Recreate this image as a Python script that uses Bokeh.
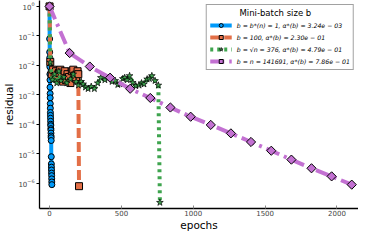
import math
from bokeh.plotting import figure
from bokeh.models import FixedTicker, Legend
from bokeh.embed import file_html
from bokeh.resources import INLINE

# ---- data ----
blue_epochs = [i * 0.5 for i in range(33)]
blue_res = [1.0, 7.9e-2, 2.8e-2, 1.8e-2, 8.9e-3, 5.0e-3, 3.2e-3, 1.8e-3, 1.1e-3, 7.9e-4,
            5.0e-4, 3.5e-4, 2.5e-4, 2.0e-4, 1.6e-4, 1.26e-4, 1.0e-4, 8.9e-5, 7.1e-5, 6.3e-5,
            5.0e-5, 4.0e-5, 3.5e-5, 2.8e-5, 7.9e-6, 4.5e-6, 3.5e-6, 2.8e-6, 2.2e-6, 1.8e-6,
            1.4e-6, 1.1e-6, 8.9e-7]

orange_epochs = [0, 5, 15, 25, 35, 45, 55, 65, 75, 85, 95, 105, 115, 125, 135, 145, 155,
                 165, 175, 185, 195, 200, 205]
orange_res = [1.0, 1.3e-2, 5.0e-3, 7.1e-3, 4.0e-3, 6.3e-3, 3.5e-3, 5.6e-3, 7.1e-3, 4.5e-3,
              2.8e-3, 6.3e-3, 3.2e-3, 5.0e-3, 4.0e-3, 2.5e-3, 6.3e-3, 7.1e-3, 4.5e-3, 3.5e-3,
              6.3e-3, 5.0e-3, 7.9e-7]

green_epochs = [0, 5, 20, 35, 50, 65, 80, 100, 120, 145, 165, 185, 201, 220, 234, 250, 268,
                290, 312, 335, 357, 385, 412, 435, 457, 475, 490, 510, 523, 540, 557, 579,
                600, 623, 640, 657, 679, 695, 712, 734, 757, 768]
green_res = [1.0, 1.26e-2, 3.2e-3, 5.0e-3, 2.5e-3, 6.3e-3, 3.0e-3, 4.0e-3, 2.5e-3, 3.4e-3,
             5.0e-3, 2.8e-3, 2.1e-3, 2.8e-3, 2.3e-3, 1.8e-3, 1.6e-3, 1.9e-3, 1.6e-3, 2.5e-3,
             3.8e-3, 3.2e-3, 3.8e-3, 2.8e-3, 3.0e-3, 2.2e-3, 2.3e-3, 3.5e-3, 3.8e-3, 3.2e-3,
             4.4e-3, 2.6e-3, 2.0e-3, 2.1e-3, 2.5e-3, 2.3e-3, 3.4e-3, 3.5e-3, 4.4e-3, 3.0e-3,
             2.1e-3, 2.2e-7]

purple_epochs = [0, 140, 280, 421, 561, 701, 841, 982, 1122, 1262, 1402, 1543, 1683, 1823,
                 1963, 2103]
purple_res = [1.0, 2.6e-2, 9.1e-3, 3.8e-3, 1.6e-3, 7.8e-4, 3.7e-4, 1.8e-4, 9.5e-5, 4.9e-5,
              2.5e-5, 1.26e-5, 6.3e-6, 3.2e-6, 1.7e-6, 8.9e-7]

labels = ["b = b*(n) = 1, α*(b) = 3.24e − 03",
          "b = 100, α*(b) = 2.30e − 01",
          "b = √n = 376, α*(b) = 4.79e − 01",
          "b = n = 141691, α*(b) = 7.86e − 01"]
legend_title = "Mini-batch size b"

x_ticks = [0, 500, 1000, 1500, 2000]
y_ticks = [1e-6, 1e-5, 1e-4, 1e-3, 1e-2, 1e-1, 1e0]

# ---- figure ----
p = figure(width=358, height=233, output_backend="svg", toolbar_location=None,
           y_axis_type="log", x_range=(-70, 2150), y_range=(10 ** -6.86, 10 ** 0.2),
           min_border_left=0, min_border_right=0, min_border_top=0, min_border_bottom=0)
p.xgrid.visible = False
p.ygrid.visible = False
p.outline_line_color = None
p.background_fill_color = "white"

series = [
    (blue_epochs, blue_res, "#009AFA", "solid", "circle", 6, 0.0, 1.0),
    (orange_epochs, orange_res, "#E36F47", "10 4", "square", 7, 0.0, 1.0),
    (green_epochs, green_res, "#3EA44E", "3 4", "star", 7, 0.0, 0.7),
    (purple_epochs, purple_res, "#C371D2", "14 5 3 5", "square", 6.5, math.pi / 4, 1.0),
]

items = []
for (xs, ys, col, dash, mk, sz, ang, lw), lab in zip(series, labels):
    l = p.line(xs, ys, line_color=col, line_width=4, line_dash=dash)
    s = p.scatter(xs, ys, marker=mk, size=sz, fill_color=col, line_color="black",
                  line_width=lw, angle=ang)
    items.append((lab, [l, s]))

legend = Legend(items=items, location="top_right")
legend.title = "\u00a0" * 11 + legend_title
legend.title_text_font_size = "8.5px"
legend.title_text_font_style = "normal"
legend.title_text_font = "DejaVu Sans"
legend.title_text_color = "black"
legend.title_standoff = 2
legend.label_text_font_size = "6.2px"
legend.label_text_font_style = "italic"
legend.label_text_font = "DejaVu Sans"
legend.label_text_color = "black"
legend.label_height = 10
legend.glyph_height = 10
legend.glyph_width = 22
legend.spacing = 2
legend.padding = 3
legend.margin = 4
legend.label_standoff = 5
legend.border_line_color = "#444444"
legend.border_line_width = 1
legend.background_fill_alpha = 1.0
p.add_layout(legend)

# axes
p.xaxis.ticker = FixedTicker(ticks=x_ticks)
p.yaxis.ticker = FixedTicker(ticks=y_ticks)
for ax in (p.xaxis[0], p.yaxis[0]):
    ax.minor_tick_line_color = None
    ax.major_label_text_font_size = "7px"
    ax.major_label_text_color = "#444444"
    ax.axis_line_color = "black"
    ax.axis_line_width = 1.3
    ax.axis_label_text_font_style = "normal"
    ax.axis_label_text_font_size = "10.5px"
    ax.axis_label_text_font = "DejaVu Sans"
    ax.axis_label_text_color = "black"
    ax.major_label_text_font = "DejaVu Sans"
    ax.major_label_standoff = 1
    ax.axis_label_standoff = 0
p.yaxis.major_label_standoff = 2
p.xaxis.major_tick_out = 0
p.xaxis.major_tick_in = 3
p.xaxis.major_tick_line_color = "#888888"
p.yaxis.major_tick_out = 3
p.yaxis.major_tick_in = 0
p.xaxis.axis_label = "epochs"
p.yaxis.axis_label = "residual"

open("out.html", "w").write(file_html(p, INLINE))
